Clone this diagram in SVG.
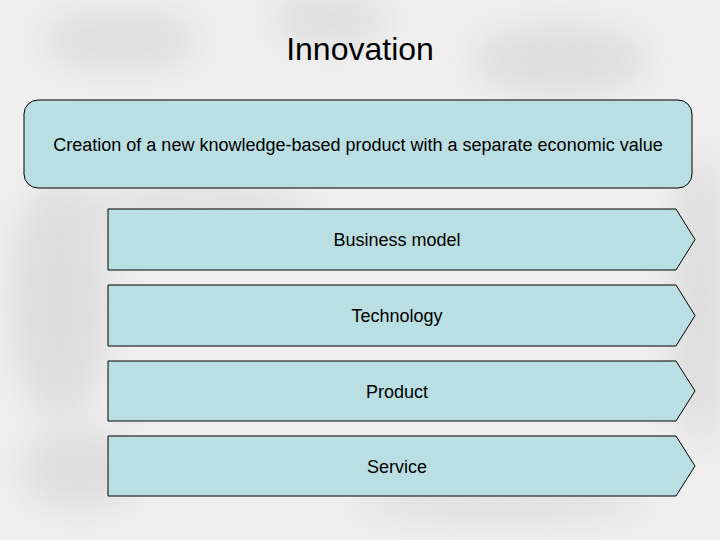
<svg xmlns="http://www.w3.org/2000/svg" width="720" height="540" viewBox="0 0 720 540">
<defs>
<filter id="blur" x="-50%" y="-50%" width="200%" height="200%"><feGaussianBlur stdDeviation="18"/></filter>
<style>
.box{fill:#badfe3;stroke:#000;stroke-width:1}
.t{font-family:"Liberation Sans",Arial,sans-serif;fill:#000;text-anchor:middle}
</style>
</defs>
<rect width="720" height="540" fill="#efefef"/>
<g filter="url(#blur)" fill="#d2d2d2" opacity="0.6">
<ellipse cx="120" cy="40" rx="80" ry="30"/>
<ellipse cx="330" cy="20" rx="60" ry="25"/>
<ellipse cx="560" cy="60" rx="90" ry="35"/>
<ellipse cx="60" cy="300" rx="50" ry="120"/>
<ellipse cx="700" cy="300" rx="30" ry="150"/>
<ellipse cx="200" cy="210" rx="120" ry="20"/>
<ellipse cx="80" cy="470" rx="60" ry="40"/>
<ellipse cx="500" cy="500" rx="150" ry="20"/>
</g>
<text class="t" x="360" y="60" font-size="32">Innovation</text>
<g id="main">
<rect class="box" x="24" y="100" width="668" height="88" rx="14" ry="14"/>
<text class="t" x="358" y="151" font-size="18">Creation of a new knowledge-based product with a separate economic value</text>
</g>
<g id="business-model">
<polygon class="box" points="108,209 676,209 695,239.5 676,270 108,270"/>
<text class="t" x="397" y="246" font-size="18">Business model</text>
</g>
<g id="technology">
<polygon class="box" points="108,285 676,285 695,315.5 676,346 108,346"/>
<text class="t" x="397" y="322" font-size="18">Technology</text>
</g>
<g id="product">
<polygon class="box" points="108,361 676,361 695,391 676,421 108,421"/>
<text class="t" x="397" y="398" font-size="18">Product</text>
</g>
<g id="service">
<polygon class="box" points="108,436 676,436 695,466 676,496 108,496"/>
<text class="t" x="397" y="473" font-size="18">Service</text>
</g>
<g id="connectors"/>
</svg>
